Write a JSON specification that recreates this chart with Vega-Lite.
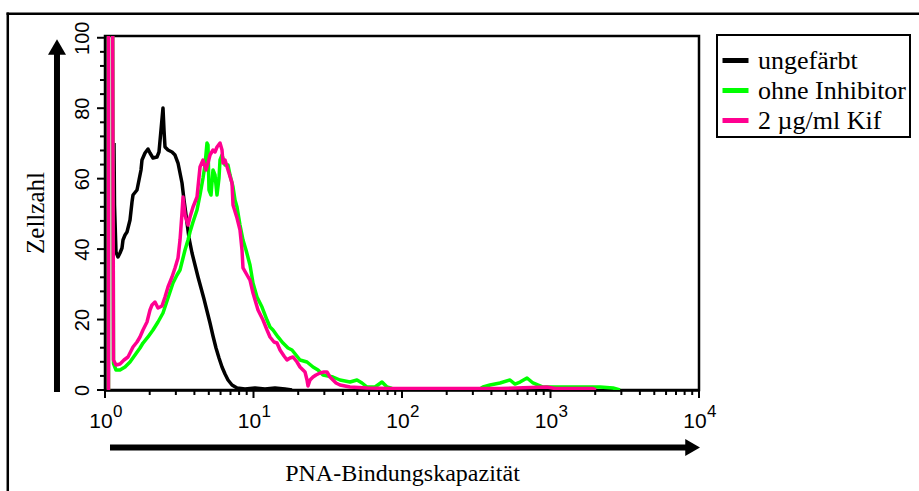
{
  "$schema": "https://vega.github.io/schema/vega-lite/v6.json",
  "width": 594,
  "height": 354,
  "autosize": {"type": "none"},
  "padding": {"left": 105, "top": 36, "right": 220, "bottom": 101},
  "background": "white",
  "config": {
    "view": {"stroke": "black", "strokeWidth": 2.5},
    "axis": {
      "grid": false,
      "domainColor": "black",
      "domainWidth": 2.5,
      "tickColor": "black",
      "tickOpacity": 0,
      "tickWidth": 2,
      "tickSize": 8,
      "labelColor": "black",
      "labelFont": "Liberation Sans",
      "titleFont": "Liberation Serif",
      "titleFontWeight": "normal",
      "titleColor": "black",
      "labelOverlap": false,
      "labelFlush": false,
      "labelBound": false
    },
    "axisX": {"labelFontSize": 21, "labelPadding": 12, "labelOffset": -4.5, "titleFontSize": 24},
    "axisY": {"labelFontSize": 20, "labelPadding": 4.5},
    "legend": {"strokeWidth": 2}
  },
  "datasets": {
    "hist": [
      {"series": "ungefärbt", "x": 1.1497, "count": 70.12},
      {"series": "ungefärbt", "x": 1.1587, "count": 52.52},
      {"series": "ungefärbt", "x": 1.186, "count": 39.18},
      {"series": "ungefärbt", "x": 1.2233, "count": 37.76},
      {"series": "ungefärbt", "x": 1.2619, "count": 38.89},
      {"series": "ungefärbt", "x": 1.3016, "count": 40.31},
      {"series": "ungefärbt", "x": 1.322, "count": 42.58},
      {"series": "ungefärbt", "x": 1.3637, "count": 44.0},
      {"series": "ungefärbt", "x": 1.4066, "count": 44.86},
      {"series": "ungefärbt", "x": 1.4736, "count": 48.26},
      {"series": "ungefärbt", "x": 1.5199, "count": 53.37},
      {"series": "ungefärbt", "x": 1.5436, "count": 55.36},
      {"series": "ungefärbt", "x": 1.6424, "count": 56.78},
      {"series": "ungefärbt", "x": 1.6943, "count": 59.62},
      {"series": "ungefärbt", "x": 1.7475, "count": 62.46},
      {"series": "ungefärbt", "x": 1.7746, "count": 65.3},
      {"series": "ungefärbt", "x": 1.8592, "count": 67.28},
      {"series": "ungefärbt", "x": 1.9477, "count": 68.42},
      {"series": "ungefärbt", "x": 2.0091, "count": 67.28},
      {"series": "ungefärbt", "x": 2.1048, "count": 65.86},
      {"series": "ungefärbt", "x": 2.2396, "count": 66.15},
      {"series": "ungefärbt", "x": 2.3101, "count": 67.57},
      {"series": "ungefärbt", "x": 2.383, "count": 73.81},
      {"series": "ungefärbt", "x": 2.4579, "count": 80.06},
      {"series": "ungefärbt", "x": 2.4964, "count": 73.81},
      {"series": "ungefärbt", "x": 2.5354, "count": 68.99},
      {"series": "ungefärbt", "x": 2.6562, "count": 68.13},
      {"series": "ungefärbt", "x": 2.8262, "count": 67.57},
      {"series": "ungefärbt", "x": 2.9608, "count": 66.71},
      {"series": "ungefärbt", "x": 3.1019, "count": 64.44},
      {"series": "ungefärbt", "x": 3.1997, "count": 61.61},
      {"series": "ungefärbt", "x": 3.3005, "count": 58.77},
      {"series": "ungefärbt", "x": 3.4041, "count": 53.94},
      {"series": "ungefärbt", "x": 3.5118, "count": 49.68},
      {"series": "ungefärbt", "x": 3.6791, "count": 43.15},
      {"series": "ungefärbt", "x": 3.8544, "count": 38.89},
      {"series": "ungefärbt", "x": 4.038, "count": 35.49},
      {"series": "ungefärbt", "x": 4.2304, "count": 32.08},
      {"series": "ungefärbt", "x": 4.4318, "count": 28.96},
      {"series": "ungefärbt", "x": 4.6416, "count": 25.83},
      {"series": "ungefärbt", "x": 4.8627, "count": 22.43},
      {"series": "ungefärbt", "x": 5.0944, "count": 19.02},
      {"series": "ungefärbt", "x": 5.3371, "count": 15.33},
      {"series": "ungefärbt", "x": 5.5913, "count": 11.92},
      {"series": "ungefärbt", "x": 5.8579, "count": 9.08},
      {"series": "ungefärbt", "x": 6.137, "count": 6.53},
      {"series": "ungefärbt", "x": 6.4294, "count": 4.54},
      {"series": "ungefärbt", "x": 6.7357, "count": 2.84},
      {"series": "ungefärbt", "x": 7.1669, "count": 1.42},
      {"series": "ungefärbt", "x": 7.7446, "count": 0.57},
      {"series": "ungefärbt", "x": 8.7657, "count": 0.28},
      {"series": "ungefärbt", "x": 10.235, "count": 0.57},
      {"series": "ungefärbt", "x": 11.952, "count": 0.28},
      {"series": "ungefärbt", "x": 13.956, "count": 0.57},
      {"series": "ungefärbt", "x": 16.298, "count": 0.28},
      {"series": "ungefärbt", "x": 18.167, "count": 0},

      {"series": "ohne Inhibitor", "x": 1.0558, "count": 0},
      {"series": "ohne Inhibitor", "x": 1.0558, "count": 130},
      {"series": "ohne Inhibitor", "x": 1.1233, "count": 130},
      {"series": "ohne Inhibitor", "x": 1.1408, "count": 7.5},
      {"series": "ohne Inhibitor", "x": 1.186, "count": 5.68},
      {"series": "ohne Inhibitor", "x": 1.2619, "count": 5.68},
      {"series": "ohne Inhibitor", "x": 1.3637, "count": 6.53},
      {"series": "ohne Inhibitor", "x": 1.4736, "count": 7.95},
      {"series": "ohne Inhibitor", "x": 1.5922, "count": 9.94},
      {"series": "ohne Inhibitor", "x": 1.7204, "count": 11.92},
      {"series": "ohne Inhibitor", "x": 1.8024, "count": 13.34},
      {"series": "ohne Inhibitor", "x": 1.9477, "count": 15.05},
      {"series": "ohne Inhibitor", "x": 2.1048, "count": 17.03},
      {"series": "ohne Inhibitor", "x": 2.2746, "count": 19.3},
      {"series": "ohne Inhibitor", "x": 2.4579, "count": 21.86},
      {"series": "ohne Inhibitor", "x": 2.6562, "count": 26.12},
      {"series": "ohne Inhibitor", "x": 2.8703, "count": 30.38},
      {"series": "ohne Inhibitor", "x": 3.0541, "count": 32.65},
      {"series": "ohne Inhibitor", "x": 3.1997, "count": 34.07},
      {"series": "ohne Inhibitor", "x": 3.3521, "count": 37.47},
      {"series": "ohne Inhibitor", "x": 3.4577, "count": 39.75},
      {"series": "ohne Inhibitor", "x": 3.6225, "count": 42.58},
      {"series": "ohne Inhibitor", "x": 3.7367, "count": 44.86},
      {"series": "ohne Inhibitor", "x": 3.9147, "count": 47.69},
      {"series": "ohne Inhibitor", "x": 4.1652, "count": 51.1},
      {"series": "ohne Inhibitor", "x": 4.3636, "count": 55.36},
      {"series": "ohne Inhibitor", "x": 4.5715, "count": 60.19},
      {"series": "ohne Inhibitor", "x": 4.7142, "count": 63.88},
      {"series": "ohne Inhibitor", "x": 4.8627, "count": 70.12},
      {"series": "ohne Inhibitor", "x": 4.9388, "count": 69.55},
      {"series": "ohne Inhibitor", "x": 5.0154, "count": 56.78},
      {"series": "ohne Inhibitor", "x": 5.174, "count": 55.36},
      {"series": "ohne Inhibitor", "x": 5.3371, "count": 62.46},
      {"series": "ohne Inhibitor", "x": 5.5052, "count": 61.04},
      {"series": "ohne Inhibitor", "x": 5.6788, "count": 55.36},
      {"series": "ohne Inhibitor", "x": 5.8579, "count": 60.19},
      {"series": "ohne Inhibitor", "x": 5.9496, "count": 65.3},
      {"series": "ohne Inhibitor", "x": 6.137, "count": 66.71},
      {"series": "ohne Inhibitor", "x": 6.4294, "count": 63.88},
      {"series": "ohne Inhibitor", "x": 6.7357, "count": 63.88},
      {"series": "ohne Inhibitor", "x": 6.9479, "count": 61.04},
      {"series": "ohne Inhibitor", "x": 7.279, "count": 57.63},
      {"series": "ohne Inhibitor", "x": 7.5066, "count": 53.94},
      {"series": "ohne Inhibitor", "x": 7.7446, "count": 51.95},
      {"series": "ohne Inhibitor", "x": 8.1113, "count": 46.84},
      {"series": "ohne Inhibitor", "x": 8.4979, "count": 42.58},
      {"series": "ohne Inhibitor", "x": 8.9033, "count": 39.75},
      {"series": "ohne Inhibitor", "x": 9.4711, "count": 35.49},
      {"series": "ohne Inhibitor", "x": 9.922, "count": 30.38},
      {"series": "ohne Inhibitor", "x": 10.558, "count": 26.4},
      {"series": "ohne Inhibitor", "x": 11.408, "count": 23.56},
      {"series": "ohne Inhibitor", "x": 12.33, "count": 19.87},
      {"series": "ohne Inhibitor", "x": 12.915, "count": 17.89},
      {"series": "ohne Inhibitor", "x": 13.53, "count": 17.03},
      {"series": "ohne Inhibitor", "x": 14.622, "count": 15.05},
      {"series": "ohne Inhibitor", "x": 15.804, "count": 13.34},
      {"series": "ohne Inhibitor", "x": 17.075, "count": 11.92},
      {"series": "ohne Inhibitor", "x": 18.167, "count": 11.36},
      {"series": "ohne Inhibitor", "x": 19.329, "count": 9.94},
      {"series": "ohne Inhibitor", "x": 20.566, "count": 8.52},
      {"series": "ohne Inhibitor", "x": 22.928, "count": 7.95},
      {"series": "ohne Inhibitor", "x": 25.158, "count": 6.53},
      {"series": "ohne Inhibitor", "x": 27.19, "count": 5.68},
      {"series": "ohne Inhibitor", "x": 29.378, "count": 4.26},
      {"series": "ohne Inhibitor", "x": 34.3, "count": 3.69},
      {"series": "ohne Inhibitor", "x": 38.24, "count": 2.84},
      {"series": "ohne Inhibitor", "x": 44.65, "count": 2.27},
      {"series": "ohne Inhibitor", "x": 49.77, "count": 2.84},
      {"series": "ohne Inhibitor", "x": 53.79, "count": 1.99},
      {"series": "ohne Inhibitor", "x": 58.13, "count": 0.85},
      {"series": "ohne Inhibitor", "x": 65.8, "count": 0.85},
      {"series": "ohne Inhibitor", "x": 73.35, "count": 2.27},
      {"series": "ohne Inhibitor", "x": 79.25, "count": 0.85},
      {"series": "ohne Inhibitor", "x": 85.65, "count": 0.43},
      {"series": "ohne Inhibitor", "x": 96.94, "count": 0.28},
      {"series": "ohne Inhibitor", "x": 335.2, "count": 0.28},
      {"series": "ohne Inhibitor", "x": 351.2, "count": 0.85},
      {"series": "ohne Inhibitor", "x": 391.4, "count": 1.42},
      {"series": "ohne Inhibitor", "x": 457.1, "count": 1.99},
      {"series": "ohne Inhibitor", "x": 533.8, "count": 2.84},
      {"series": "ohne Inhibitor", "x": 576.8, "count": 1.7},
      {"series": "ohne Inhibitor", "x": 623.3, "count": 2.27},
      {"series": "ohne Inhibitor", "x": 694.9, "count": 3.41},
      {"series": "ohne Inhibitor", "x": 762.5, "count": 1.99},
      {"series": "ohne Inhibitor", "x": 890.3, "count": 0.85},
      {"series": "ohne Inhibitor", "x": 992.2, "count": 0.85},
      {"series": "ohne Inhibitor", "x": 1291.5, "count": 0.85},
      {"series": "ohne Inhibitor", "x": 1655.8, "count": 0.85},
      {"series": "ohne Inhibitor", "x": 2154.4, "count": 0.85},
      {"series": "ohne Inhibitor", "x": 2636, "count": 0.57},
      {"series": "ohne Inhibitor", "x": 2937.7, "count": 0},

      {"series": "2 µg/ml Kif", "x": 1.0558, "count": 0},
      {"series": "2 µg/ml Kif", "x": 1.0558, "count": 130},
      {"series": "2 µg/ml Kif", "x": 1.1233, "count": 130},
      {"series": "2 µg/ml Kif", "x": 1.1408, "count": 8.52},
      {"series": "2 µg/ml Kif", "x": 1.186, "count": 7.1},
      {"series": "2 µg/ml Kif", "x": 1.2619, "count": 7.38},
      {"series": "2 µg/ml Kif", "x": 1.3427, "count": 8.52},
      {"series": "2 µg/ml Kif", "x": 1.4286, "count": 9.37},
      {"series": "2 µg/ml Kif", "x": 1.5436, "count": 12.21},
      {"series": "2 µg/ml Kif", "x": 1.6424, "count": 13.63},
      {"series": "2 µg/ml Kif", "x": 1.7204, "count": 15.05},
      {"series": "2 µg/ml Kif", "x": 1.8024, "count": 17.03},
      {"series": "2 µg/ml Kif", "x": 1.9177, "count": 19.3},
      {"series": "2 µg/ml Kif", "x": 2.0091, "count": 22.71},
      {"series": "2 µg/ml Kif", "x": 2.0724, "count": 24.13},
      {"series": "2 µg/ml Kif", "x": 2.1711, "count": 24.98},
      {"series": "2 µg/ml Kif", "x": 2.2746, "count": 23.28},
      {"series": "2 µg/ml Kif", "x": 2.4201, "count": 23.85},
      {"series": "2 µg/ml Kif", "x": 2.5354, "count": 26.4},
      {"series": "2 µg/ml Kif", "x": 2.6562, "count": 29.24},
      {"series": "2 µg/ml Kif", "x": 2.8262, "count": 32.08},
      {"series": "2 µg/ml Kif", "x": 2.9608, "count": 34.64},
      {"series": "2 µg/ml Kif", "x": 3.1019, "count": 37.47},
      {"series": "2 µg/ml Kif", "x": 3.1997, "count": 42.58},
      {"series": "2 µg/ml Kif", "x": 3.3005, "count": 50.25},
      {"series": "2 µg/ml Kif", "x": 3.3521, "count": 54.79},
      {"series": "2 µg/ml Kif", "x": 3.4577, "count": 49.68},
      {"series": "2 µg/ml Kif", "x": 3.6225, "count": 46.84},
      {"series": "2 µg/ml Kif", "x": 3.7367, "count": 49.11},
      {"series": "2 µg/ml Kif", "x": 3.9147, "count": 51.95},
      {"series": "2 µg/ml Kif", "x": 4.1652, "count": 54.79},
      {"series": "2 µg/ml Kif", "x": 4.3636, "count": 63.31},
      {"series": "2 µg/ml Kif", "x": 4.5715, "count": 65.3},
      {"series": "2 µg/ml Kif", "x": 4.7867, "count": 62.46},
      {"series": "2 µg/ml Kif", "x": 4.9388, "count": 64.44},
      {"series": "2 µg/ml Kif", "x": 5.0944, "count": 66.71},
      {"series": "2 µg/ml Kif", "x": 5.3371, "count": 68.13},
      {"series": "2 µg/ml Kif", "x": 5.5052, "count": 67.57},
      {"series": "2 µg/ml Kif", "x": 5.6788, "count": 68.99},
      {"series": "2 µg/ml Kif", "x": 5.9496, "count": 70.12},
      {"series": "2 µg/ml Kif", "x": 6.137, "count": 68.13},
      {"series": "2 µg/ml Kif", "x": 6.233, "count": 64.44},
      {"series": "2 µg/ml Kif", "x": 6.4294, "count": 65.3},
      {"series": "2 µg/ml Kif", "x": 6.7357, "count": 62.46},
      {"series": "2 µg/ml Kif", "x": 7.1669, "count": 58.77},
      {"series": "2 µg/ml Kif", "x": 7.279, "count": 52.52},
      {"series": "2 µg/ml Kif", "x": 7.7446, "count": 48.83},
      {"series": "2 µg/ml Kif", "x": 8.1113, "count": 45.42},
      {"series": "2 µg/ml Kif", "x": 8.367, "count": 39.75},
      {"series": "2 µg/ml Kif", "x": 8.4979, "count": 34.64},
      {"series": "2 µg/ml Kif", "x": 9.0419, "count": 32.65},
      {"series": "2 µg/ml Kif", "x": 9.4711, "count": 31.23},
      {"series": "2 µg/ml Kif", "x": 9.922, "count": 27.54},
      {"series": "2 µg/ml Kif", "x": 10.722, "count": 22.71},
      {"series": "2 µg/ml Kif", "x": 11.588, "count": 19.87},
      {"series": "2 µg/ml Kif", "x": 12.33, "count": 17.03},
      {"series": "2 µg/ml Kif", "x": 12.915, "count": 15.05},
      {"series": "2 µg/ml Kif", "x": 13.74, "count": 13.63},
      {"series": "2 µg/ml Kif", "x": 14.396, "count": 13.34},
      {"series": "2 µg/ml Kif", "x": 15.085, "count": 11.36},
      {"series": "2 µg/ml Kif", "x": 16.046, "count": 9.65},
      {"series": "2 µg/ml Kif", "x": 16.812, "count": 8.52},
      {"series": "2 µg/ml Kif", "x": 17.613, "count": 9.08},
      {"series": "2 µg/ml Kif", "x": 18.452, "count": 9.37},
      {"series": "2 µg/ml Kif", "x": 19.633, "count": 7.95},
      {"series": "2 µg/ml Kif", "x": 20.566, "count": 6.53},
      {"series": "2 µg/ml Kif", "x": 21.544, "count": 5.68},
      {"series": "2 µg/ml Kif", "x": 22.228, "count": 5.11},
      {"series": "2 µg/ml Kif", "x": 22.928, "count": 2.84},
      {"series": "2 µg/ml Kif", "x": 23.284, "count": 1.14},
      {"series": "2 µg/ml Kif", "x": 24.016, "count": 2.84},
      {"series": "2 µg/ml Kif", "x": 25.158, "count": 3.69},
      {"series": "2 µg/ml Kif", "x": 26.36, "count": 4.26},
      {"series": "2 µg/ml Kif", "x": 28.047, "count": 4.83},
      {"series": "2 µg/ml Kif", "x": 29.83, "count": 5.11},
      {"series": "2 µg/ml Kif", "x": 31.25, "count": 5.11},
      {"series": "2 µg/ml Kif", "x": 32.75, "count": 3.69},
      {"series": "2 µg/ml Kif", "x": 34.3, "count": 2.84},
      {"series": "2 µg/ml Kif", "x": 35.94, "count": 1.99},
      {"series": "2 µg/ml Kif", "x": 38.24, "count": 1.42},
      {"series": "2 µg/ml Kif", "x": 41.33, "count": 1.14},
      {"series": "2 µg/ml Kif", "x": 44.65, "count": 0.85},
      {"series": "2 µg/ml Kif", "x": 58.13, "count": 0.57},
      {"series": "2 µg/ml Kif", "x": 83.04, "count": 0.43},
      {"series": "2 µg/ml Kif", "x": 210.5, "count": 0.43},
      {"series": "2 µg/ml Kif", "x": 457.1, "count": 0.43},
      {"series": "2 µg/ml Kif", "x": 947.1, "count": 0.85},
      {"series": "2 µg/ml Kif", "x": 1072, "count": 0.43},
      {"series": "2 µg/ml Kif", "x": 1933.3, "count": 0.43},
      {"series": "2 µg/ml Kif", "x": 2024, "count": 0}
    ],
    "exps": [
      {"v": 1, "e": "0"},
      {"v": 10, "e": "1"},
      {"v": 100, "e": "2"},
      {"v": 1000, "e": "3"},
      {"v": 10000, "e": "4"}
    ],
    "xminor": [
      {"v": 2}, {"v": 3}, {"v": 4}, {"v": 5}, {"v": 6}, {"v": 7}, {"v": 8}, {"v": 9},
      {"v": 20}, {"v": 30}, {"v": 40}, {"v": 50}, {"v": 60}, {"v": 70}, {"v": 80}, {"v": 90},
      {"v": 200}, {"v": 300}, {"v": 400}, {"v": 500}, {"v": 600}, {"v": 700}, {"v": 800}, {"v": 900},
      {"v": 2000}, {"v": 3000}, {"v": 4000}, {"v": 5000}, {"v": 6000}, {"v": 7000}, {"v": 8000}, {"v": 9000}
    ],
    "ymajor": [
      {"v": 0}, {"v": 20}, {"v": 40}, {"v": 60}, {"v": 80}, {"v": 100}
    ],
    "yminor": [
      {"v": 4}, {"v": 8}, {"v": 12}, {"v": 16},
      {"v": 24}, {"v": 28}, {"v": 32}, {"v": 36},
      {"v": 44}, {"v": 48}, {"v": 52}, {"v": 56},
      {"v": 64}, {"v": 68}, {"v": 72}, {"v": 76},
      {"v": 84}, {"v": 88}, {"v": 92}, {"v": 96}
    ]
  },
  "layer": [
    {
      "data": {"name": "hist"},
      "transform": [{"filter": "datum.series === 'ungefärbt'"}],
      "mark": {"type": "line", "strokeWidth": 3.5, "clip": true, "strokeJoin": "round"},
      "encoding": {
        "x": {
          "field": "x", "type": "quantitative",
          "scale": {"type": "log", "domain": [1, 10000], "nice": false},
          "axis": {
            "values": [1, 10, 100, 1000, 10000],
            "labelExpr": "'10'",
            "tickOpacity": 0,
            "labelOverlap": false,
            "labelAlign": "center",
            "labelBaseline": "top",
            "title": "PNA-Bindungskapazität",
            "titleX": 297,
            "titleY": 90,
            "titleAlign": "center",
            "titleBaseline": "alphabetic"
          }
        },
        "y": {
          "field": "count", "type": "quantitative",
          "scale": {"domain": [0, 100.5], "nice": false, "zero": false},
          "axis": {
            "values": [0, 20, 40, 60, 80, 100],
            "tickOpacity": 0,
            "labelOverlap": false,
            "labelAngle": 270,
            "labelAlign": "center",
            "labelBaseline": "bottom",
            "title": null
          }
        },
        "color": {
          "field": "series", "type": "nominal",
          "scale": {"domain": ["ungefärbt", "ohne Inhibitor", "2 µg/ml Kif"], "range": ["#000000", "#00ff00", "#ff0090"]},
          "legend": {
            "orient": "none",
            "legendX": 612,
            "legendY": -1,
            "title": " ",
            "titleFontSize": 2,
            "titlePadding": 5,
            "strokeColor": "black",
            "padding": 3,
            "symbolType": "stroke",
            "symbolSize": 676,
            "symbolStrokeWidth": 5,
            "labelFont": "Liberation Serif",
            "labelFontSize": 26,
            "labelColor": "black",
            "labelOffset": 7,
            "labelLimit": 300,
            "rowPadding": 1
          }
        },
        "order": {"value": null}
      }
    },
    {
      "data": {"name": "hist"},
      "transform": [{"filter": "datum.series === 'ohne Inhibitor'"}],
      "mark": {"type": "line", "strokeWidth": 3.5, "clip": true, "strokeJoin": "round"},
      "encoding": {
        "x": {"field": "x", "type": "quantitative", "scale": {"type": "log", "domain": [1, 10000], "nice": false}},
        "y": {"field": "count", "type": "quantitative", "scale": {"domain": [0, 100.5], "nice": false, "zero": false}},
        "color": {"field": "series", "type": "nominal", "scale": {"domain": ["ungefärbt", "ohne Inhibitor", "2 µg/ml Kif"], "range": ["#000000", "#00ff00", "#ff0090"]}},
        "order": {"value": null}
      }
    },
    {
      "data": {"name": "hist"},
      "transform": [{"filter": "datum.series === '2 µg/ml Kif'"}],
      "mark": {"type": "line", "strokeWidth": 3.5, "clip": true, "strokeJoin": "round"},
      "encoding": {
        "x": {"field": "x", "type": "quantitative", "scale": {"type": "log", "domain": [1, 10000], "nice": false}},
        "y": {"field": "count", "type": "quantitative", "scale": {"domain": [0, 100.5], "nice": false, "zero": false}},
        "color": {"field": "series", "type": "nominal", "scale": {"domain": ["ungefärbt", "ohne Inhibitor", "2 µg/ml Kif"], "range": ["#000000", "#00ff00", "#ff0090"]}},
        "order": {"value": null}
      }
    },
    {
      "data": {"name": "exps"},
      "mark": {"type": "text", "font": "Liberation Sans", "fontSize": 17, "align": "left", "baseline": "top", "dx": 8, "color": "black"},
      "encoding": {
        "x": {"field": "v", "type": "quantitative", "scale": {"type": "log", "domain": [1, 10000], "nice": false}},
        "y": {"datum": -3.9, "type": "quantitative", "scale": {"domain": [0, 100.5], "nice": false, "zero": false}},
        "text": {"field": "e", "type": "nominal"}
      }
    },
    {
      "data": {"name": "exps"},
      "mark": {"type": "rule", "color": "black", "strokeWidth": 2, "strokeCap": "butt"},
      "encoding": {
        "x": {"field": "v", "type": "quantitative", "scale": {"type": "log", "domain": [1, 10000], "nice": false}},
        "y": {"datum": 0, "type": "quantitative", "scale": {"domain": [0, 100.5], "nice": false, "zero": false}},
        "y2": {"datum": -2.27}
      }
    },
    {
      "data": {"name": "xminor"},
      "mark": {"type": "rule", "color": "black", "strokeWidth": 2, "strokeCap": "butt"},
      "encoding": {
        "x": {"field": "v", "type": "quantitative", "scale": {"type": "log", "domain": [1, 10000], "nice": false}},
        "y": {"datum": 0, "type": "quantitative", "scale": {"domain": [0, 100.5], "nice": false, "zero": false}},
        "y2": {"datum": -1.42}
      }
    },
    {
      "data": {"name": "ymajor"},
      "mark": {"type": "rule", "color": "black", "strokeWidth": 2, "strokeCap": "butt"},
      "encoding": {
        "y": {"field": "v", "type": "quantitative", "scale": {"domain": [0, 100.5], "nice": false, "zero": false}},
        "x": {"datum": 1, "type": "quantitative", "scale": {"type": "log", "domain": [1, 10000], "nice": false}},
        "x2": {"datum": 0.8834}
      }
    },
    {
      "data": {"name": "yminor"},
      "mark": {"type": "rule", "color": "black", "strokeWidth": 2, "strokeCap": "butt"},
      "encoding": {
        "y": {"field": "v", "type": "quantitative", "scale": {"domain": [0, 100.5], "nice": false, "zero": false}},
        "x": {"datum": 1, "type": "quantitative", "scale": {"type": "log", "domain": [1, 10000], "nice": false}},
        "x2": {"datum": 0.9254}
      }
    },
    {
      "data": {"values": [{}]},
      "mark": {"type": "text", "font": "Liberation Serif", "fontSize": 25, "angle": 270, "align": "center", "baseline": "alphabetic", "color": "black"},
      "encoding": {
        "x": {"datum": 0.3883, "type": "quantitative", "scale": {"type": "log", "domain": [1, 10000], "nice": false}},
        "y": {"datum": 50.25, "type": "quantitative", "scale": {"domain": [0, 100.5], "nice": false, "zero": false}},
        "text": {"value": "Zellzahl"}
      }
    },
    {
      "data": {"values": [{}]},
      "mark": {"type": "rule", "color": "black", "strokeWidth": 6, "strokeCap": "butt"},
      "encoding": {
        "x": {"datum": 0.475, "type": "quantitative", "scale": {"type": "log", "domain": [1, 10000], "nice": false}},
        "y": {"datum": -0.6, "type": "quantitative", "scale": {"domain": [0, 100.5], "nice": false, "zero": false}},
        "y2": {"datum": 95.96}
      }
    },
    {
      "data": {"values": [{}]},
      "mark": {"type": "point", "shape": "triangle-up", "size": 324, "filled": true, "color": "black", "opacity": 1},
      "encoding": {
        "x": {"datum": 0.475, "type": "quantitative", "scale": {"type": "log", "domain": [1, 10000], "nice": false}},
        "y": {"datum": 97.38, "type": "quantitative", "scale": {"domain": [0, 100.5], "nice": false, "zero": false}}
      }
    },
    {
      "data": {"values": [{}]},
      "mark": {"type": "rule", "color": "black", "strokeWidth": 6, "strokeCap": "butt"},
      "encoding": {
        "x": {"datum": 1.0806, "type": "quantitative", "scale": {"type": "log", "domain": [1, 10000], "nice": false}},
        "x2": {"datum": 8698},
        "y": {"datum": -16.32, "type": "quantitative", "scale": {"domain": [0, 100.5], "nice": false, "zero": false}}
      }
    },
    {
      "data": {"values": [{}]},
      "mark": {"type": "point", "shape": "triangle-right", "size": 289, "filled": true, "color": "black", "opacity": 1},
      "encoding": {
        "x": {"datum": 9056, "type": "quantitative", "scale": {"type": "log", "domain": [1, 10000], "nice": false}},
        "y": {"datum": -16.32, "type": "quantitative", "scale": {"domain": [0, 100.5], "nice": false, "zero": false}}
      }
    },
    {
      "data": {"values": [{}]},
      "mark": {"type": "rule", "color": "black", "strokeWidth": 2.5, "strokeCap": "butt"},
      "encoding": {
        "x": {"datum": 0.2172, "type": "quantitative", "scale": {"type": "log", "domain": [1, 10000], "nice": false}},
        "x2": {"datum": 359400},
        "y": {"datum": 106.8, "type": "quantitative", "scale": {"domain": [0, 100.5], "nice": false, "zero": false}}
      }
    },
    {
      "data": {"values": [{}]},
      "mark": {"type": "rule", "color": "black", "strokeWidth": 2.5, "strokeCap": "butt"},
      "encoding": {
        "x": {"datum": 0.2215, "type": "quantitative", "scale": {"type": "log", "domain": [1, 10000], "nice": false}},
        "y": {"datum": 107.14, "type": "quantitative", "scale": {"domain": [0, 100.5], "nice": false, "zero": false}},
        "y2": {"datum": -31.23}
      }
    }
  ]
}
